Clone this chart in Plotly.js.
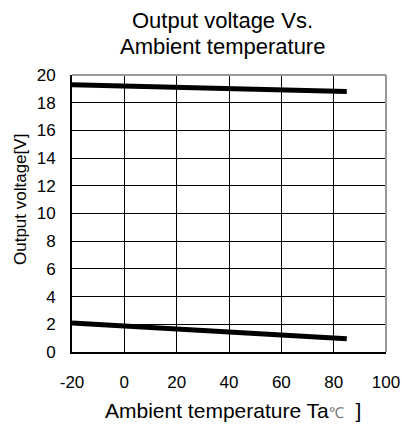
<!DOCTYPE html>
<html><head><meta charset="utf-8">
<script src="https://cdn.plot.ly/plotly-3.0.1.min.js"></script>
<style>html,body{margin:0;padding:0;background:#fff}#c{width:402px;height:426px}</style>
</head><body><div id="c"></div>
<script>
const temps = [-20, 85];
const upperVoltage = [19.3, 18.8];
const lowerVoltage = [2.1, 0.95];
const xTicks = [-20, 0, 20, 40, 60, 80, 100];
const yTicks = [0, 2, 4, 6, 8, 10, 12, 14, 16, 18, 20];
const titleLines = ['Output voltage Vs.', 'Ambient temperature'];
const xTitle = 'Ambient temperature Ta<span style="font-size:15px;color:#777">℃</span>  ]';
const yTitle = 'Output voltage[V]';

const ff = 'Liberation Sans, Arial, sans-serif';
const lineStyle = {color: '#000', width: 5};
const data = [
  {x: temps, y: upperVoltage, mode: 'lines', line: lineStyle, hoverinfo: 'skip'},
  {x: temps, y: lowerVoltage, mode: 'lines', line: lineStyle, hoverinfo: 'skip'}
];
const W = 314, H = 277;
const ann = titleLines.map((t, i) => ({
  text: t, xref: 'paper', yref: 'paper', x: (222 - 72) / W, xanchor: 'center',
  y: 1 + (75 - 20 - 27 * i) / H, yanchor: 'middle', showarrow: false,
  font: {size: 22, family: ff, color: '#000'}
}));
ann.push({text: xTitle, xref: 'paper', yref: 'paper', x: (233 - 72) / W, xanchor: 'center',
  y: -(410 - 352) / H, yanchor: 'middle', showarrow: false,
  font: {size: 21, family: ff, color: '#000'}});
ann.push({text: yTitle, xref: 'paper', yref: 'paper', x: -(72 - 20) / W, xanchor: 'center',
  y: (352 - 200) / H, yanchor: 'middle', textangle: -90, showarrow: false,
  font: {size: 17, family: ff, color: '#000'}});
const layout = {
  width: 402, height: 426,
  margin: {l: 72, r: 16, t: 75, b: 74},
  showlegend: false,
  paper_bgcolor: '#fff', plot_bgcolor: '#fff',
  font: {family: ff, color: '#000'},
  xaxis: {
    range: [-20, 100], tickvals: xTicks, ticktext: xTicks.map(String),
    showgrid: true, gridcolor: '#000', gridwidth: 1,
    zeroline: false, showline: true, linecolor: '#000', linewidth: 2,
    ticks: '', ticklabelstandoff: 14, tickfont: {size: 17, family: ff, color: '#000'}
  },
  yaxis: {
    range: [0, 20], tickvals: yTicks, ticktext: yTicks.map(String),
    showgrid: true, gridcolor: '#000', gridwidth: 1,
    zeroline: false, showline: true, linecolor: '#000', linewidth: 2,
    ticks: '', ticklabelstandoff: 11, tickfont: {size: 17, family: ff, color: '#000'}
  },
  annotations: ann,
  shapes: [
    {type: 'line', xref: 'paper', yref: 'paper', x0: 0, x1: 1, y0: 1, y1: 1, line: {color: '#999', width: 2}},
    {type: 'line', xref: 'paper', yref: 'paper', x0: 1, x1: 1, y0: 0, y1: 1, line: {color: '#999', width: 2}}
  ]
};
Plotly.newPlot('c', data, layout, {displayModeBar: false, staticPlot: true});
</script></body></html>
